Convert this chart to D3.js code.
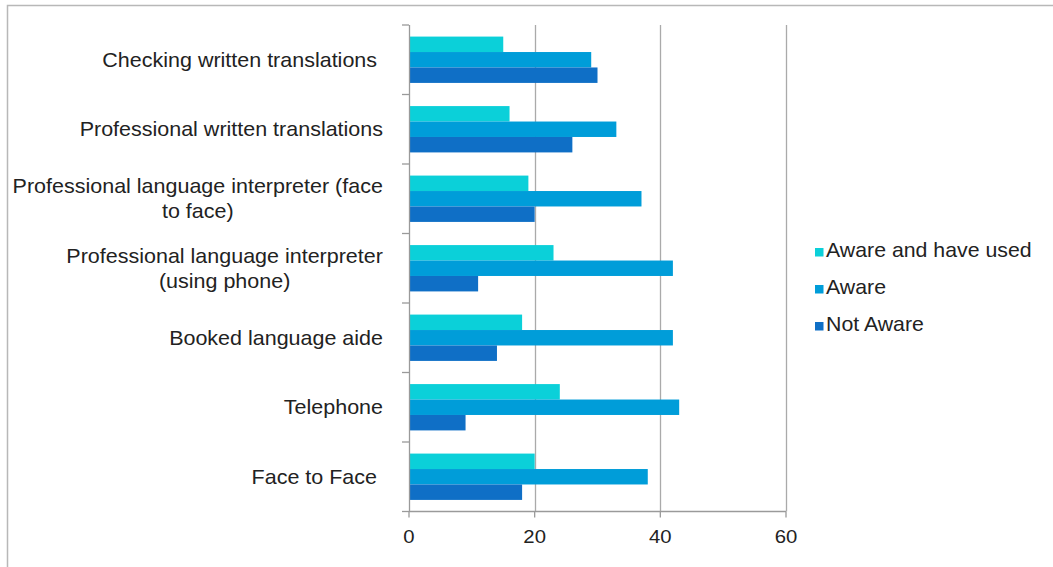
<!DOCTYPE html>
<html>
<head>
<meta charset="utf-8">
<script src="https://cdn.jsdelivr.net/npm/d3@7"></script>
<style>
  html, body { margin: 0; padding: 0; background: #fff; }
  svg { display: block; }
  text { font-family: "Liberation Sans", Arial, sans-serif; fill: #222; white-space: pre; }
</style>
</head>
<body>
<svg id="chart" width="1053" height="567"></svg>
<script>
// ---- Data ----
const categories = [
  "Checking written translations ",
  "Professional written translations",
  "Professional language interpreter (face\nto face)",
  "Professional language interpreter\n(using phone)",
  "Booked language aide",
  "Telephone",
  "Face to Face "
];
const seriesNames = ["Aware and have used", "Aware", "Not Aware"];
const awareUsed = [15, 16, 19, 23, 18, 24, 20];
const aware     = [29, 33, 37, 42, 42, 43, 38];
const notAware  = [30, 26, 20, 11, 14,  9, 18];
const xTicks = [0, 20, 40, 60];
const colors = ["#0BD0D9", "#009DD9", "#0F6FC6"];

const seriesValues = [awareUsed, aware, notAware];

// ---- Layout ----
const svg = d3.select("#chart");
const plot = { left: 409, right: 786, top: 25, bottom: 511.5 };
const sx = 1.075;

const x = d3.scaleLinear().domain([0, 60]).range([plot.left, plot.right]);
const y = d3.scaleBand().domain(d3.range(categories.length)).range([plot.top, plot.bottom]).padding(0);
const ySub = d3.scaleBand().domain(d3.range(seriesNames.length)).range([0, y.bandwidth()]).paddingInner(0).paddingOuter(0.75);

// frame
svg.append("path")
  .attr("d", `M7.5,567 L7.5,5.5 L1053,5.5`)
  .attr("fill", "none").attr("stroke", "#b8b8b8").attr("stroke-width", 1.5);

// gridlines
svg.append("g").selectAll("line").data(xTicks.filter(t => t > 0)).join("line")
  .attr("x1", d => Math.round(x(d)) + 0.5).attr("x2", d => Math.round(x(d)) + 0.5)
  .attr("y1", plot.top).attr("y2", plot.bottom)
  .attr("stroke", "#aaaaaa").attr("stroke-width", 1.3);

// bars
const groups = svg.append("g").selectAll("g").data(seriesValues).join("g")
  .attr("fill", (d, i) => colors[i]);
groups.each(function(vals, si) {
  d3.select(this).selectAll("rect").data(vals).join("rect")
    .attr("x", x(0))
    .attr("y", (d, ci) => y(ci) + ySub(si))
    .attr("width", d => x(d) - x(0))
    .attr("height", ySub.bandwidth());
});

// y axis line + ticks
const axisColor = "#9a9a9a";
svg.append("line")
  .attr("x1", plot.left + 0.5).attr("x2", plot.left + 0.5)
  .attr("y1", plot.top).attr("y2", plot.bottom)
  .attr("stroke", axisColor).attr("stroke-width", 1.3);
const boundaries = d3.range(categories.length + 1).map(i => plot.top + i * y.step());
svg.append("g").selectAll("line").data(boundaries).join("line")
  .attr("x1", plot.left - 7).attr("x2", plot.left)
  .attr("y1", d => d).attr("y2", d => d)
  .attr("stroke", axisColor).attr("stroke-width", 1.3);

// x axis line + ticks
svg.append("line")
  .attr("x1", plot.left).attr("x2", plot.right)
  .attr("y1", plot.bottom).attr("y2", plot.bottom)
  .attr("stroke", axisColor).attr("stroke-width", 1.3);
svg.append("g").selectAll("line").data(xTicks).join("line")
  .attr("x1", d => x(d)).attr("x2", d => x(d))
  .attr("y1", plot.bottom).attr("y2", plot.bottom + 6)
  .attr("stroke", axisColor).attr("stroke-width", 1.3);

// x tick labels
svg.append("g").selectAll("text").data(xTicks).join("text")
  .attr("transform", d => `translate(${x(d)},543) scale(1.07,1)`)
  .attr("text-anchor", "middle")
  .style("font-size", "19px")
  .text(d => d);

// category labels
const labelRight = 383;
const lineH = 25;
categories.forEach((c, i) => {
  const lines = c.split("\n");
  const cy = y(i) + y.bandwidth() / 2;
  if (lines.length === 1) {
    svg.append("text")
      .attr("transform", `translate(${labelRight},${cy + 7}) scale(${sx},1)`)
      .attr("text-anchor", "end")
      .style("font-size", "20px")
      .text(lines[0]);
  } else {
    const g = svg.append("g");
    const texts = lines.map((ln, k) => g.append("text")
      .attr("text-anchor", "middle")
      .style("font-size", "20px")
      .text(ln));
    const w = d3.max(texts, t => t.node().getComputedTextLength()) * sx;
    const cx = labelRight - w / 2;
    const y0 = cy + 7 - (lines.length - 1) * lineH / 2;
    texts.forEach((t, k) => t.attr("transform", `translate(${cx},${y0 + k * lineH}) scale(${sx},1)`));
  }
});

// legend
const legend = svg.append("g").selectAll("g").data(seriesNames).join("g")
  .attr("transform", (d, i) => `translate(815,${248 + i * 37})`);
legend.append("rect").attr("width", 8.5).attr("height", 8.5).attr("fill", (d, i) => colors[i]);
legend.append("text")
  .attr("transform", `translate(11,9.3) scale(1.065,1)`)
  .style("font-size", "20px")
  .text(d => d);
</script>
</body>
</html>
